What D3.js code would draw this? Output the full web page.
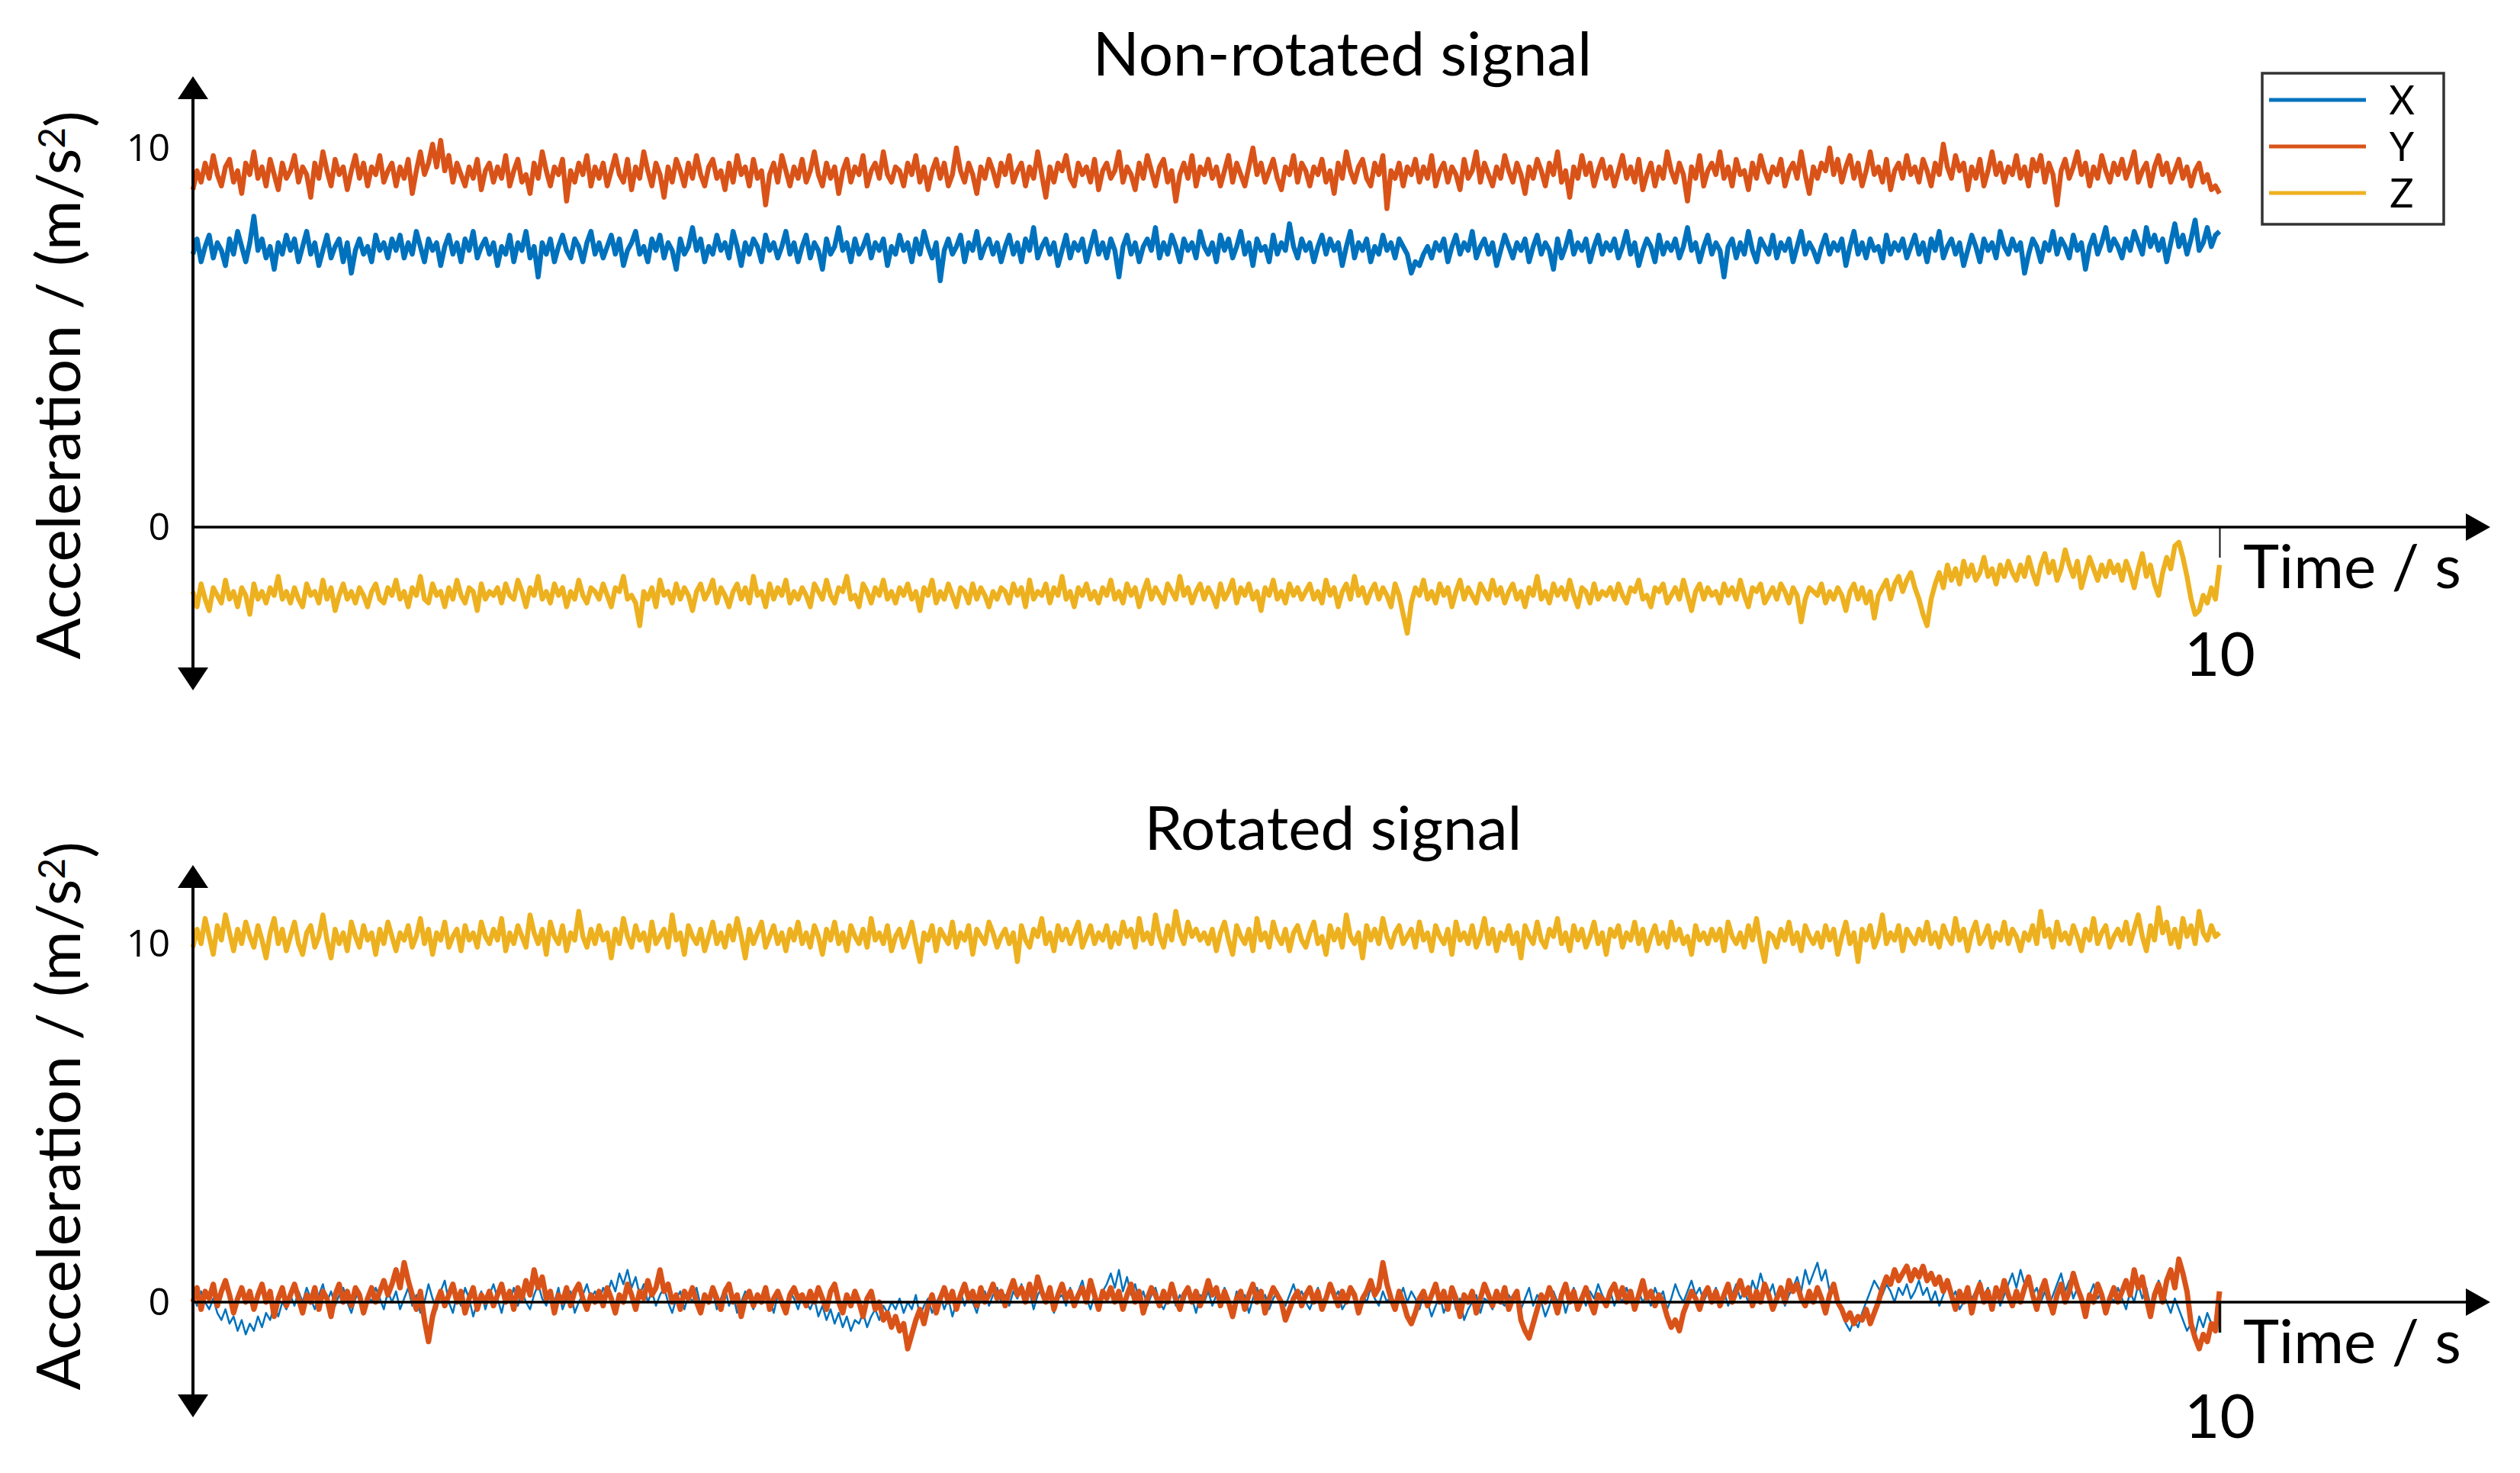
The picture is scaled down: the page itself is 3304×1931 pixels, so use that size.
<html>
<head>
<meta charset="utf-8">
<script src="https://d3js.org/d3.v7.min.js"></script>
<style>
  body { margin: 0; background: #fff; }
  text { fill: #000; }
</style>
</head>
<body>
<script>
// Non-rotated signal (m/s^2), 500 samples over 10 s
var rawX = [
  7.2,7.6,7.0,7.4,7.7,7.1,7.5,7.3,6.9,7.6,7.2,7.8,7.4,7.0,7.5,8.2,7.3,7.6,7.1,7.4,6.8,7.5,7.2,7.7,7.3,
  7.6,7.0,7.4,7.8,7.2,7.5,6.9,7.3,7.7,7.1,7.4,7.6,7.0,7.5,6.7,7.3,7.6,7.2,7.4,7.0,7.7,7.3,7.5,7.1,7.6,
  7.3,7.7,7.1,7.5,7.2,7.8,7.4,7.0,7.6,7.3,7.5,6.9,7.4,7.7,7.2,7.5,7.0,7.6,7.3,7.8,7.1,7.4,7.6,7.2,7.5,
  6.9,7.4,7.2,7.7,7.0,7.5,7.3,7.8,7.1,7.4,6.6,7.5,7.2,7.6,7.0,7.4,7.7,7.3,7.1,7.6,7.4,7.0,7.5,7.8,7.2,
  7.5,7.1,7.4,7.7,7.2,7.6,6.9,7.3,7.5,7.8,7.2,7.4,7.0,7.6,7.3,7.7,7.1,7.5,7.3,6.8,7.6,7.2,7.4,7.9,7.3,
  7.6,7.0,7.4,7.2,7.7,7.3,7.5,7.1,7.8,7.4,6.9,7.5,7.2,7.6,7.4,7.0,7.7,7.3,7.5,7.1,7.4,7.8,7.2,7.5,7.0,
  7.4,7.7,7.1,7.5,7.3,6.8,7.6,7.2,7.4,7.9,7.3,7.5,7.0,7.6,7.2,7.4,7.7,7.1,7.5,7.3,7.6,6.9,7.4,7.2,7.7,
  7.3,7.5,7.0,7.6,7.2,7.8,7.4,7.1,7.5,6.5,7.3,7.6,7.2,7.4,7.7,7.0,7.5,7.3,7.8,7.1,7.4,7.6,7.2,7.5,7.0,
  7.4,7.7,7.2,7.5,7.0,7.6,7.3,7.9,7.1,7.4,7.6,7.2,7.5,6.9,7.3,7.7,7.1,7.5,7.3,7.6,7.0,7.4,7.8,7.2,7.5,
  7.1,7.6,7.3,6.6,7.4,7.7,7.2,7.5,7.0,7.4,7.6,7.3,7.9,7.1,7.5,7.2,7.7,7.4,7.0,7.6,7.3,7.5,7.1,7.8,7.4,
  7.2,7.5,7.0,7.7,7.3,7.6,7.1,7.4,7.8,7.2,7.5,6.9,7.6,7.3,7.4,7.0,7.7,7.2,7.5,7.3,8.0,7.4,7.1,7.6,7.3,
  7.5,7.0,7.4,7.7,7.2,7.6,7.3,7.5,6.9,7.4,7.8,7.1,7.5,7.3,7.6,7.0,7.4,7.2,7.7,7.3,7.5,7.1,7.6,7.4,7.2,
  6.7,7.0,6.9,7.2,7.4,7.1,7.5,7.3,7.6,7.0,7.4,7.7,7.2,7.5,7.3,7.8,7.1,7.4,7.6,7.2,7.5,6.9,7.3,7.7,7.4,
  7.1,7.5,7.3,7.6,7.0,7.4,7.7,7.2,7.5,7.3,6.8,7.6,7.1,7.4,7.8,7.2,7.5,7.3,7.6,7.0,7.4,7.7,7.2,7.5,7.3,
  7.6,7.1,7.4,7.8,7.2,7.5,6.9,7.3,7.6,7.4,7.0,7.7,7.2,7.5,7.3,7.6,7.1,7.4,7.9,7.3,7.5,7.0,7.4,7.7,7.2,
  7.5,7.3,6.6,7.4,7.6,7.1,7.5,7.2,7.8,7.3,7.0,7.6,7.4,7.2,7.7,7.1,7.5,7.3,7.6,7.0,7.4,7.8,7.2,7.5,7.3,
  7.0,7.4,7.7,7.2,7.5,7.3,7.6,6.9,7.4,7.8,7.2,7.5,7.1,7.6,7.3,7.4,7.0,7.7,7.2,7.5,7.3,7.6,7.1,7.4,7.7,
  7.2,7.5,7.0,7.6,7.3,7.8,7.1,7.4,7.6,7.2,7.5,6.9,7.3,7.7,7.4,7.0,7.6,7.3,7.5,7.1,7.8,7.4,7.2,7.6,7.3,
  7.5,6.7,7.2,7.6,7.4,7.0,7.5,7.3,7.8,7.2,7.6,7.4,7.1,7.7,7.3,7.5,6.8,7.4,7.7,7.2,7.5,7.9,7.3,7.6,7.4,
  7.1,7.6,7.3,7.8,7.5,7.2,7.9,7.4,7.7,7.3,7.6,7.0,7.5,8.0,7.4,7.7,7.2,7.6,8.1,7.3,7.5,7.9,7.4,7.7,7.8
];
var rawY = [
  8.9,9.4,9.1,9.6,9.2,9.8,9.3,9.0,9.5,9.7,9.1,9.4,8.8,9.6,9.3,9.9,9.2,9.5,9.0,9.7,9.3,8.9,9.6,9.2,9.4,
  9.8,9.1,9.5,9.3,8.7,9.6,9.2,9.9,9.4,9.0,9.7,9.3,9.5,8.9,9.4,9.8,9.2,9.6,9.0,9.5,9.3,9.8,9.1,9.4,9.6,
  9.0,9.5,9.2,9.7,8.8,9.4,9.9,9.3,9.6,10.1,9.5,10.2,9.4,9.8,9.1,9.6,9.3,9.0,9.5,9.2,9.7,8.9,9.4,9.6,9.1,
  9.5,9.2,9.8,9.0,9.4,9.7,9.1,9.3,8.8,9.6,9.2,9.9,9.4,9.0,9.5,9.3,9.7,8.6,9.4,9.1,9.6,9.3,9.8,9.0,9.5,
  9.2,9.6,9.0,9.4,9.8,9.3,9.1,9.7,8.9,9.5,9.2,9.9,9.4,9.0,9.6,9.3,8.7,9.5,9.1,9.7,9.4,9.0,9.6,9.2,9.8,
  9.3,9.0,9.5,9.7,9.2,9.4,8.9,9.6,9.1,9.8,9.3,9.5,9.0,9.7,9.2,9.4,8.5,9.3,9.6,9.1,9.8,9.4,9.0,9.5,9.2,
  9.7,9.1,9.4,9.9,9.3,9.0,9.6,9.2,9.5,8.8,9.4,9.7,9.1,9.5,9.3,9.8,9.0,9.4,9.6,9.2,9.9,9.3,9.1,9.5,9.4,
  9.0,9.6,9.3,9.8,9.1,9.5,8.9,9.4,9.7,9.2,9.6,9.0,9.3,10.0,9.4,9.1,9.6,9.3,8.8,9.5,9.2,9.7,9.4,9.0,9.6,
  9.3,9.8,9.1,9.4,9.6,9.0,9.5,9.2,9.9,9.3,8.7,9.5,9.1,9.6,9.4,9.8,9.2,9.0,9.6,9.3,9.5,9.1,9.7,8.9,9.4,
  9.6,9.2,9.4,9.9,9.1,9.5,9.3,8.9,9.6,9.2,9.8,9.4,9.0,9.5,9.7,9.1,9.4,8.6,9.3,9.6,9.2,9.8,9.0,9.5,9.3,
  9.7,9.2,9.5,9.0,9.4,9.8,9.1,9.6,9.3,9.0,9.5,10.0,9.3,9.6,9.1,9.4,9.7,9.2,8.9,9.5,9.3,9.8,9.1,9.6,9.4,
  9.0,9.5,9.3,9.7,9.1,9.4,8.8,9.6,9.2,9.9,9.4,9.1,9.5,9.7,9.2,9.0,9.6,9.3,9.8,8.4,9.4,9.2,9.6,9.0,9.5,
  9.3,9.7,9.1,9.5,9.2,9.8,9.0,9.4,9.6,9.1,9.5,9.3,8.9,9.7,9.2,9.4,9.9,9.1,9.6,9.3,9.0,9.5,9.2,9.8,9.4,
  9.1,9.6,9.3,8.8,9.5,9.2,9.7,9.4,9.0,9.6,9.3,9.9,9.1,9.4,8.7,9.5,9.2,9.8,9.3,9.6,9.0,9.4,9.7,9.2,9.5,
  9.0,9.4,9.8,9.2,9.5,9.1,9.7,8.9,9.3,9.6,9.0,9.5,9.2,9.9,9.4,9.1,9.6,9.3,8.6,9.5,9.2,9.8,9.0,9.4,9.6,
  9.3,9.9,9.2,9.5,9.0,9.7,9.3,9.4,8.9,9.6,9.2,9.8,9.4,9.1,9.5,9.3,9.7,9.0,9.4,9.6,9.2,9.9,9.3,8.8,9.5,
  9.2,9.6,9.4,10.0,9.3,9.7,9.1,9.5,9.8,9.2,9.6,9.0,9.4,9.9,9.3,9.5,9.1,9.7,8.9,9.4,9.6,9.2,9.8,9.3,9.5,
  9.1,9.7,9.4,9.0,9.6,9.3,10.1,9.5,9.2,9.8,9.4,9.6,8.9,9.5,9.2,9.7,9.0,9.4,9.9,9.3,9.6,9.1,9.5,9.3,9.8,
  9.2,9.5,9.0,9.7,9.4,9.8,9.1,9.6,9.3,8.5,9.4,9.7,9.2,9.5,9.9,9.3,9.6,9.0,9.5,9.2,9.8,9.4,9.1,9.6,9.3,
  9.7,9.2,9.5,9.9,9.1,9.4,9.6,9.0,9.5,9.8,9.3,9.6,9.1,9.4,9.7,9.2,9.5,9.0,9.4,9.6,9.1,9.3,8.9,9.0,8.8
];
var rawZ = [
  -1.7,-2.1,-1.5,-1.9,-2.2,-1.6,-1.8,-2.0,-1.4,-1.9,-1.7,-2.1,-1.6,-1.8,-2.3,-1.5,-1.9,-1.7,-2.0,-1.6,-1.8,-1.3,-1.9,-1.7,-2.0,
  -1.6,-1.9,-2.1,-1.5,-1.8,-1.7,-2.0,-1.4,-1.9,-1.6,-2.2,-1.8,-1.5,-1.9,-1.7,-2.0,-1.6,-1.8,-2.1,-1.7,-1.5,-1.9,-2.0,-1.6,-1.8,
  -1.4,-1.9,-1.7,-2.1,-1.6,-1.8,-1.3,-1.9,-2.0,-1.5,-1.8,-1.7,-2.1,-1.6,-1.9,-1.4,-1.8,-2.0,-1.6,-1.7,-2.2,-1.5,-1.9,-1.7,-1.8,
  -1.6,-2.0,-1.5,-1.8,-1.9,-1.4,-1.7,-2.1,-1.6,-1.8,-1.3,-1.9,-1.7,-2.0,-1.5,-1.8,-1.6,-2.1,-1.7,-1.9,-1.4,-1.8,-2.0,-1.6,-1.7,
  -1.9,-1.5,-1.8,-2.1,-1.6,-1.7,-1.3,-1.9,-1.8,-2.0,-2.6,-1.7,-1.9,-1.6,-2.1,-1.4,-1.8,-1.7,-2.0,-1.5,-1.9,-1.6,-1.8,-2.2,-1.7,
  -1.5,-1.9,-1.7,-1.4,-2.0,-1.6,-1.8,-2.1,-1.7,-1.5,-1.9,-1.6,-2.0,-1.3,-1.8,-1.7,-2.1,-1.5,-1.9,-1.6,-1.8,-1.4,-2.0,-1.7,-1.9,
  -1.6,-1.8,-2.1,-1.5,-1.7,-1.9,-1.4,-1.8,-2.0,-1.6,-1.7,-1.3,-1.9,-1.8,-2.1,-1.5,-1.7,-2.0,-1.6,-1.8,-1.4,-1.9,-1.7,-2.0,-1.6,
  -1.8,-1.5,-1.9,-1.7,-2.2,-1.6,-1.8,-1.4,-2.0,-1.7,-1.9,-1.5,-1.8,-2.1,-1.6,-1.7,-2.0,-1.5,-1.9,-1.6,-1.8,-2.1,-1.7,-1.9,-1.6,
  -1.7,-2.0,-1.5,-1.8,-1.6,-2.1,-1.4,-1.9,-1.7,-1.8,-1.5,-2.0,-1.6,-1.8,-1.3,-1.9,-1.7,-2.1,-1.6,-1.8,-1.5,-1.9,-1.7,-2.0,-1.6,
  -1.8,-1.4,-1.9,-1.7,-2.0,-1.5,-1.8,-1.6,-2.1,-1.7,-1.4,-1.9,-1.6,-1.8,-2.0,-1.5,-1.7,-1.9,-1.3,-1.8,-1.6,-2.0,-1.7,-1.5,-1.9,
  -1.6,-1.8,-2.1,-1.5,-1.9,-1.7,-1.4,-2.0,-1.6,-1.8,-1.5,-1.9,-1.7,-2.2,-1.6,-1.8,-1.4,-1.9,-1.7,-2.0,-1.5,-1.8,-1.6,-1.9,-1.7,
  -1.5,-1.9,-1.7,-2.0,-1.4,-1.8,-1.6,-2.1,-1.7,-1.5,-1.9,-1.3,-1.8,-1.6,-2.0,-1.7,-1.5,-1.9,-1.6,-1.8,-2.1,-1.5,-1.8,-2.3,-2.8,
  -2.0,-1.6,-1.8,-1.4,-1.9,-1.7,-2.0,-1.5,-1.8,-1.6,-2.1,-1.7,-1.4,-1.9,-1.6,-1.8,-2.0,-1.5,-1.7,-1.9,-1.4,-1.8,-1.6,-2.0,-1.7,
  -1.5,-1.9,-1.7,-2.1,-1.6,-1.8,-1.3,-1.9,-1.7,-2.0,-1.5,-1.8,-1.6,-1.9,-1.4,-1.8,-2.1,-1.6,-1.7,-2.0,-1.5,-1.9,-1.7,-1.8,-1.6,
  -1.9,-1.5,-1.8,-2.0,-1.6,-1.7,-1.4,-1.9,-1.8,-2.1,-1.6,-1.7,-1.5,-2.0,-1.8,-1.6,-1.9,-1.4,-1.8,-2.2,-1.7,-1.5,-1.9,-1.6,-1.8,
  -1.7,-2.0,-1.5,-1.8,-1.6,-1.9,-1.4,-1.8,-2.1,-1.6,-1.7,-1.5,-2.0,-1.8,-1.6,-1.9,-1.5,-1.7,-2.0,-1.6,-1.8,-2.5,-1.9,-1.6,-1.7,
  -1.8,-1.5,-2.0,-1.7,-1.9,-1.6,-1.8,-2.2,-1.7,-1.5,-1.9,-1.6,-2.0,-1.7,-2.4,-1.8,-1.6,-1.4,-1.9,-1.5,-1.3,-1.7,-1.4,-1.2,-1.6,
  -1.9,-2.3,-2.6,-1.9,-1.5,-1.2,-1.6,-1.0,-1.4,-1.1,-1.5,-0.9,-1.3,-1.0,-1.4,-1.2,-0.8,-1.3,-1.1,-1.5,-1.0,-1.3,-0.9,-1.2,-1.4,
  -1.0,-1.3,-0.8,-1.2,-1.5,-1.0,-0.7,-1.2,-0.9,-1.4,-1.1,-0.6,-1.0,-1.3,-0.9,-1.6,-1.2,-0.8,-1.1,-1.4,-1.0,-1.3,-0.9,-1.2,-1.0,
  -1.4,-0.9,-1.2,-1.6,-1.1,-0.7,-1.3,-1.0,-1.5,-1.8,-1.2,-0.8,-1.1,-0.5,-0.4,-0.8,-1.3,-1.9,-2.3,-2.2,-1.8,-2.0,-1.6,-1.9,-1.0
];

// Rotated signal (m/s^2), 500 samples over 10 s
var rotX = [
  0.2,-0.1,0.3,0.0,-0.2,0.1,-0.3,-0.5,-0.2,-0.6,-0.4,-0.8,-0.5,-0.9,-0.6,-0.8,-0.4,-0.7,-0.3,-0.5,-0.1,-0.4,0.0,-0.2,0.2,
  -0.1,0.3,0.0,0.4,0.1,-0.2,0.2,0.5,0.0,0.3,-0.1,0.2,0.4,0.0,-0.3,0.1,0.3,-0.2,0.2,0.0,0.4,0.1,-0.2,0.3,0.0,
  0.3,-0.2,0.1,0.4,-0.1,0.2,-0.3,0.0,0.5,0.1,-0.2,0.3,0.6,0.0,-0.3,0.2,-0.1,0.4,0.1,-0.4,0.0,0.3,-0.2,0.2,0.5,
  0.1,-0.3,0.2,0.0,0.4,-0.1,0.3,0.0,-0.2,0.2,0.5,0.1,-0.1,0.3,0.0,0.4,-0.2,0.1,0.3,-0.3,0.0,0.2,0.5,0.1,0.3,
  0.0,0.4,0.2,0.6,0.3,0.8,0.5,0.9,0.4,0.7,0.2,0.5,0.0,0.3,-0.1,0.2,0.4,0.0,-0.3,0.1,0.3,-0.2,0.2,0.0,0.4,
  -0.1,0.2,0.0,0.3,-0.2,0.1,0.4,-0.1,0.2,-0.3,0.0,0.3,0.1,-0.2,0.2,0.0,0.4,0.1,-0.3,0.2,0.0,-0.1,0.3,0.1,-0.2,
  0.2,0.0,-0.2,0.1,-0.4,-0.1,-0.5,-0.2,-0.6,-0.3,-0.7,-0.4,-0.8,-0.5,-0.6,-0.3,-0.7,-0.4,-0.2,-0.5,-0.1,-0.3,0.0,-0.2,0.1,
  -0.3,0.0,-0.2,0.2,-0.4,-0.1,0.1,-0.3,0.0,0.2,-0.2,0.1,-0.4,0.0,0.3,-0.1,0.2,0.0,-0.3,0.1,0.3,-0.1,0.2,0.4,0.0,
  0.2,-0.1,0.3,0.1,0.5,0.0,0.3,-0.2,0.2,0.4,0.0,0.3,-0.3,0.1,0.2,-0.1,0.4,0.0,0.3,0.6,0.1,-0.2,0.2,0.0,0.3,
  0.5,0.8,0.4,0.9,0.3,0.7,0.2,0.5,0.0,0.3,-0.1,0.2,0.4,0.0,-0.2,0.1,0.3,-0.1,0.2,0.0,0.4,0.1,-0.3,0.2,0.0,
  0.3,-0.1,0.2,0.0,0.4,0.1,-0.2,0.3,0.0,0.2,-0.3,0.1,0.4,0.0,0.2,-0.2,0.1,0.3,0.0,-0.1,0.2,0.5,0.1,0.3,0.0,
  -0.2,0.1,0.4,0.0,0.2,0.5,0.1,0.3,-0.2,0.0,0.3,0.1,-0.3,0.2,0.0,0.4,0.1,-0.1,0.3,0.0,0.2,-0.2,0.1,0.4,0.0,
  0.3,0.1,-0.2,0.2,0.0,-0.4,-0.1,0.2,-0.3,0.0,0.3,-0.2,0.1,-0.5,-0.2,0.0,0.2,-0.3,0.1,0.0,-0.2,0.3,0.0,-0.1,0.2,
  0.0,0.3,-0.2,0.1,0.4,-0.1,0.2,0.0,-0.4,-0.1,0.3,0.0,0.2,-0.3,0.1,0.4,0.0,0.2,-0.1,0.3,0.1,0.5,0.2,0.0,0.3,
  -0.1,0.2,0.0,0.4,0.1,-0.2,0.3,0.0,0.2,-0.1,0.4,0.1,0.3,-0.2,0.1,0.5,0.2,0.0,0.3,0.6,0.2,0.4,0.0,0.3,0.1,
  0.4,0.0,0.3,-0.1,0.2,0.5,0.1,0.3,0.0,0.6,0.3,0.8,0.4,0.2,0.5,0.0,0.3,-0.1,0.2,0.4,0.7,0.3,0.9,0.5,0.8,
  1.1,0.6,0.9,0.3,0.5,0.0,-0.3,-0.6,-0.8,-0.5,-0.7,-0.3,0.0,0.3,0.6,0.4,0.2,0.5,0.3,0.0,0.4,0.2,0.5,0.1,0.3,
  0.6,0.2,0.4,0.0,0.3,-0.1,0.2,0.5,0.1,0.3,-0.2,0.0,0.4,0.1,0.3,0.6,0.2,0.4,0.0,0.3,-0.1,0.2,0.5,0.8,0.4,
  0.9,0.5,0.7,0.2,0.4,0.0,0.3,-0.1,0.2,0.5,0.8,0.3,0.6,0.1,0.4,0.0,-0.2,0.2,0.5,0.1,0.3,-0.1,0.2,0.0,0.4,
  0.1,-0.2,0.3,0.0,0.5,0.1,0.4,-0.1,0.2,0.6,0.3,0.0,-0.3,0.1,-0.2,-0.5,-0.8,-0.6,-0.9,-0.4,-0.7,-0.3,-0.6,-0.8,-0.4
];
var rotY = [
  0.0,0.4,-0.2,0.3,0.1,0.5,-0.1,0.3,0.6,0.2,-0.3,0.1,0.4,0.0,0.3,-0.2,0.2,0.5,0.0,0.3,-0.4,0.1,0.4,-0.1,0.2,
  0.5,0.1,-0.3,0.2,0.0,0.4,-0.2,0.3,0.1,-0.4,0.2,0.5,0.0,0.3,-0.1,0.4,0.2,-0.3,0.1,0.4,0.0,0.3,0.6,0.2,0.5,
  0.9,0.4,1.1,0.6,0.2,-0.2,0.3,-0.5,-1.1,-0.4,0.0,0.3,-0.1,0.2,0.5,0.0,0.3,-0.3,0.1,0.4,-0.2,0.2,0.0,0.3,-0.1,
  0.2,0.5,0.0,0.3,-0.2,0.4,0.1,0.6,0.2,0.9,0.4,0.7,0.1,0.3,-0.3,0.2,0.0,0.4,-0.1,0.3,0.5,0.1,-0.2,0.2,0.0,
  0.3,-0.1,0.4,0.1,-0.3,0.2,0.0,0.5,0.2,-0.2,0.3,0.1,0.6,0.2,0.4,0.9,0.3,0.5,0.0,0.2,-0.2,0.3,0.1,0.4,0.0,
  -0.3,0.2,0.0,0.4,0.1,-0.2,0.3,0.5,0.0,0.2,-0.4,0.1,0.3,-0.1,0.2,0.0,0.4,-0.2,0.1,0.3,0.0,-0.3,0.2,0.4,0.1,
  0.2,-0.1,0.3,0.0,0.4,0.1,-0.2,0.3,0.5,0.0,-0.3,0.2,-0.1,0.3,0.0,-0.4,0.1,0.3,-0.2,0.0,-0.5,-0.3,-0.7,-0.4,-0.8,
  -0.6,-1.3,-0.9,-0.5,-0.2,-0.6,-0.1,0.2,-0.3,0.1,0.4,0.0,0.3,-0.2,0.2,0.5,0.1,0.3,-0.1,0.4,0.0,0.2,0.5,0.1,0.3,
  -0.1,0.3,0.6,0.2,0.4,0.0,0.5,0.1,0.7,0.3,0.0,0.4,-0.2,0.2,0.5,0.1,0.3,-0.1,0.2,0.4,0.0,0.6,0.2,-0.2,0.3,
  0.1,0.4,0.0,0.3,-0.2,0.2,0.5,0.0,0.3,-0.3,0.1,0.4,0.2,-0.1,0.3,0.0,0.5,0.1,-0.2,0.2,0.4,0.0,0.3,-0.1,0.2,
  0.6,0.2,0.4,-0.1,0.3,0.0,-0.4,0.1,0.3,-0.2,0.2,0.5,0.0,0.3,-0.3,0.1,0.4,0.2,0.0,-0.5,-0.2,0.1,0.3,-0.1,0.2,
  0.4,0.0,0.3,-0.2,0.1,0.5,0.2,-0.1,0.3,0.0,0.4,0.2,-0.3,0.1,0.3,0.6,0.2,0.4,1.1,0.5,0.1,-0.2,0.3,0.0,-0.4,
  -0.6,-0.3,0.1,0.3,-0.1,0.2,0.5,0.0,0.3,-0.2,0.4,0.1,-0.4,0.2,0.0,0.3,-0.3,0.1,0.5,0.2,-0.1,0.3,0.0,0.4,-0.2,
  0.1,0.3,-0.5,-0.8,-1.0,-0.6,-0.2,0.2,0.0,0.4,0.1,-0.3,0.2,0.5,0.0,0.3,-0.2,0.1,0.4,0.0,-0.3,0.2,0.1,-0.1,0.3,
  0.5,0.1,0.4,0.0,0.3,-0.2,0.2,0.6,0.1,0.3,-0.1,0.2,0.0,-0.4,-0.7,-0.5,-0.8,-0.3,0.0,0.3,0.1,-0.2,0.2,0.4,0.0,
  0.3,-0.1,0.2,0.5,0.0,0.3,0.6,0.2,0.4,-0.1,0.3,0.0,0.5,0.2,-0.2,0.1,0.4,0.0,0.6,0.3,0.5,0.1,-0.1,0.3,0.0,
  0.4,0.1,-0.3,0.2,0.5,0.0,-0.2,-0.5,-0.3,-0.6,-0.4,-0.5,-0.2,-0.6,-0.3,0.0,0.4,0.7,0.5,0.9,0.6,0.8,1.0,0.6,0.9,
  0.7,1.0,0.6,0.8,0.5,0.7,0.3,0.6,0.2,-0.2,0.3,0.0,0.4,-0.3,0.2,0.5,0.0,0.3,-0.2,0.4,0.1,0.6,0.2,-0.1,0.3,
  0.0,0.4,0.7,0.2,-0.2,0.3,0.6,0.1,-0.3,0.2,0.5,0.0,0.3,0.8,0.4,0.1,-0.4,0.2,0.0,0.5,0.2,-0.3,0.1,0.4,0.0,
  0.3,0.6,0.2,0.9,0.4,0.7,0.1,-0.4,0.2,0.5,0.0,0.6,0.9,0.4,1.2,0.8,0.3,-0.6,-1.0,-1.3,-0.9,-1.1,-0.6,-0.8,0.3
];
var rotZ = [
  9.9,10.4,10.0,10.7,10.2,9.7,10.5,10.1,10.8,10.3,9.8,10.4,10.0,10.6,10.2,9.9,10.5,10.1,9.6,10.3,10.7,10.0,10.4,9.8,10.2,
  10.6,10.0,9.7,10.3,10.5,9.9,10.2,10.8,10.1,9.6,10.4,10.0,10.3,9.8,10.6,10.2,9.9,10.5,10.1,10.3,9.7,10.4,10.0,10.6,10.2,
  9.8,10.3,10.1,10.5,9.9,10.2,10.7,10.0,10.4,9.7,10.3,10.1,10.6,9.9,10.2,10.4,9.8,10.5,10.1,10.3,9.9,10.6,10.2,10.0,10.4,
  10.1,10.7,9.8,10.3,10.0,10.5,10.2,9.9,10.8,10.3,10.0,10.4,9.7,10.6,10.2,10.0,10.5,9.8,10.3,10.1,10.9,10.2,9.9,10.4,10.0,
  10.5,10.1,10.3,9.6,10.4,10.0,10.7,10.2,9.9,10.5,10.1,10.3,9.8,10.6,10.0,10.2,10.4,9.9,10.8,10.1,10.3,9.7,10.5,10.2,10.0,
  10.4,9.8,10.2,10.6,10.0,10.3,9.9,10.5,10.1,10.7,10.2,9.6,10.4,10.0,10.3,10.6,9.9,10.2,10.5,10.0,10.3,9.8,10.4,10.1,10.6,
  10.0,10.3,9.9,10.5,10.2,9.7,10.4,10.1,10.6,10.0,10.3,9.8,10.5,10.2,10.0,10.4,9.9,10.7,10.1,10.3,10.0,10.5,9.8,10.2,10.4,
  9.9,10.2,10.6,10.0,9.5,10.3,10.1,10.5,9.8,10.4,10.2,10.0,10.6,9.9,10.3,10.1,10.5,9.7,10.4,10.2,10.0,10.6,10.3,9.9,10.2,
  10.4,10.0,10.3,9.5,10.5,10.1,9.9,10.4,10.2,10.7,10.0,10.3,9.8,10.5,10.1,10.4,10.0,10.3,10.6,9.9,10.2,10.5,10.0,10.3,10.1,
  10.5,9.9,10.3,10.0,10.6,10.2,10.4,9.9,10.7,10.1,10.3,10.0,10.8,10.2,9.9,10.5,10.1,10.9,10.3,10.0,10.6,10.2,10.4,10.1,10.3,
  10.0,10.4,9.8,10.3,10.6,10.1,9.7,10.5,10.2,10.0,10.4,9.8,10.7,10.1,10.3,9.9,10.6,10.2,10.0,10.4,9.8,10.3,10.5,10.1,9.9,
  10.3,10.6,10.0,10.2,9.7,10.5,10.1,10.4,9.9,10.8,10.2,10.0,10.3,9.6,10.5,10.1,10.4,10.0,10.7,10.2,9.9,10.3,10.5,10.0,10.2,
  10.4,9.9,10.6,10.1,10.3,9.8,10.5,10.2,10.0,10.4,9.7,10.6,10.1,10.3,10.0,10.5,9.9,10.2,10.7,10.0,10.4,9.8,10.3,10.1,10.5,
  10.0,10.3,9.6,10.5,10.2,10.0,10.6,10.1,9.9,10.4,10.2,10.7,10.0,10.3,9.8,10.5,10.1,10.4,9.9,10.2,10.6,10.0,10.3,9.7,10.4,
  10.2,10.5,9.9,10.3,10.1,10.6,10.0,10.4,9.8,10.2,10.5,10.0,10.3,9.9,10.6,10.1,10.4,10.0,10.2,9.7,10.5,10.1,10.3,10.0,10.4,
  10.1,10.4,9.8,10.6,10.2,10.0,10.3,9.9,10.5,10.1,10.7,10.0,9.5,10.3,10.2,9.9,10.4,10.1,10.6,10.0,10.3,9.8,10.5,10.2,10.0,
  10.3,9.9,10.5,10.1,10.4,9.7,10.2,10.6,10.0,10.3,9.5,10.4,10.1,10.5,9.9,10.2,10.8,10.0,10.3,10.1,10.5,9.8,10.4,10.2,10.0,
  10.4,10.1,10.6,10.0,10.3,9.9,10.5,10.2,10.0,10.7,10.1,10.4,9.8,10.3,10.6,10.0,10.2,10.5,9.9,10.3,10.1,10.6,10.0,10.4,10.2,
  9.8,10.3,10.1,10.5,10.0,10.9,10.2,10.4,9.9,10.6,10.1,10.3,10.0,10.5,10.2,9.8,10.4,10.1,10.7,10.0,10.3,10.5,9.9,10.2,10.4,
  10.1,10.6,10.0,10.4,10.8,10.2,9.8,10.5,10.1,11.0,10.3,10.6,10.0,10.4,9.9,10.7,10.2,10.5,10.0,10.9,10.3,10.1,10.5,10.2,10.3
];

var seriesNames = ["X", "Y", "Z"];
var colors = ["#0072BD", "#D95319", "#EDB120"];
var yTicks = [0, 10];
var xTicks = [10];
var tEnd = 10;

var W = 3304, H = 1931;
var bigFont = "Lato, 'Open Sans', sans-serif";

var svg = d3.select("body").append("svg")
  .attr("width", W).attr("height", H)
  .style("background", "#fff");

var x0 = 253, x1 = 2910, xArrow = 3265;
var xScale = d3.scaleLinear().domain([0, tEnd]).range([x0, x1]);

function drawPanel(p) {
  var g = svg.append("g");
  var yScale = d3.scaleLinear().domain([0, 10]).range([p.y0, p.y10]);

  // signals
  p.series.forEach(function (s) {
    var n = s.values.length;
    var line = d3.line()
      .x(function (d, i) { return xScale(i * tEnd / (n - 1)); })
      .y(function (d) { return yScale(d); });
    g.append("path")
      .attr("fill", "none")
      .attr("stroke", colors[s.k])
      .attr("stroke-width", s.w)
      .attr("stroke-linejoin", "round")
      .attr("d", line(s.values));
  });

  // y axis ticks
  var yAxis = d3.axisLeft(yScale).tickValues(yTicks).tickSize(0).tickPadding(30);
  var ya = g.append("g").attr("transform", "translate(" + x0 + ",0)").call(yAxis);
  ya.select(".domain").remove();
  ya.selectAll("text").style("font-family", "'Open Sans', sans-serif").style("font-size", "50px").attr("fill", "#222");

  // x axis tick
  var xAxis = d3.axisBottom(xScale).tickValues(xTicks).tickSize(p.tick).tickPadding(p.tickPad);
  var xa = g.append("g").attr("transform", "translate(0," + p.y0 + ")").call(xAxis);
  xa.select(".domain").remove();
  xa.selectAll("line").attr("stroke", "#111").attr("stroke-width", p.tickW);
  xa.selectAll("text").style("font-family", bigFont).style("font-size", "80px");

  // axis lines with arrowheads
  g.append("line").attr("x1", x0).attr("x2", x0).attr("y1", p.top + 20).attr("y2", p.bottom - 20)
    .attr("stroke", "#000").attr("stroke-width", 4);
  g.append("line").attr("x1", x0).attr("x2", xArrow - 20).attr("y1", p.y0).attr("y2", p.y0)
    .attr("stroke", "#000").attr("stroke-width", 3.5);
  g.append("path").attr("d", "M" + x0 + "," + p.top + "L" + (x0 - 20) + "," + (p.top + 30) + "L" + (x0 + 20) + "," + (p.top + 30) + "Z");
  g.append("path").attr("d", "M" + x0 + "," + p.bottom + "L" + (x0 - 20) + "," + (p.bottom - 30) + "L" + (x0 + 20) + "," + (p.bottom - 30) + "Z");
  g.append("path").attr("d", "M" + xArrow + "," + p.y0 + "L" + (xArrow - 32) + "," + (p.y0 - 18) + "L" + (xArrow - 32) + "," + (p.y0 + 18) + "Z");

  // labels
  g.append("text").attr("x", p.titleX).attr("y", p.titleY).attr("text-anchor", "middle")
    .style("font-family", bigFont).style("font-size", "80px").text(p.title);
  g.append("text").attr("x", 2941).attr("y", p.y0 + 80)
    .style("font-family", bigFont).style("font-size", "80px").text("Time / s");

  var yl = g.append("text")
    .attr("transform", "translate(105," + p.labelY + ") rotate(-90)")
    .attr("text-anchor", "middle")
    .style("font-family", bigFont).style("font-size", "80px");
  yl.append("tspan").text("Acceleration / (m/s");
  yl.append("tspan").attr("dy", "-0.42em").style("font-size", "48px").text("2");
  yl.append("tspan").attr("dy", "0.42em").text(")");
}

drawPanel({
  title: "Non-rotated signal", titleX: 1760, titleY: 99,
  y0: 691, y10: 194, top: 100, bottom: 905, labelY: 505,
  tick: 40, tickW: 2, tickPad: 98,
  series: [
    { values: rawX, k: 0, w: 6.5 },
    { values: rawY, k: 1, w: 6.5 },
    { values: rawZ, k: 2, w: 6.5 }
  ]
});

drawPanel({
  title: "Rotated signal", titleX: 1748, titleY: 1114,
  y0: 1707, y10: 1237, top: 1134, bottom: 1858, labelY: 1463,
  tick: 40, tickW: 3.5, tickPad: 81,
  series: [
    { values: rotX, k: 0, w: 2.5 },
    { values: rotY, k: 1, w: 7 },
    { values: rotZ, k: 2, w: 6.5 }
  ]
});

// legend (top panel)
var lg = svg.append("g");
lg.append("rect").attr("x", 2966).attr("y", 96).attr("width", 238).attr("height", 198)
  .attr("fill", "#fff").attr("stroke", "#333").attr("stroke-width", 3.5);
seriesNames.forEach(function (name, i) {
  var cy = 131 + i * 61;
  lg.append("line").attr("x1", 2975).attr("x2", 3102).attr("y1", cy).attr("y2", cy)
    .attr("stroke", colors[i]).attr("stroke-width", 5);
  lg.append("text").attr("x", 3149).attr("y", cy).attr("dy", "0.36em").attr("text-anchor", "middle")
    .style("font-family", bigFont).style("font-size", "52px").text(name);
});
</script>
</body>
</html>
